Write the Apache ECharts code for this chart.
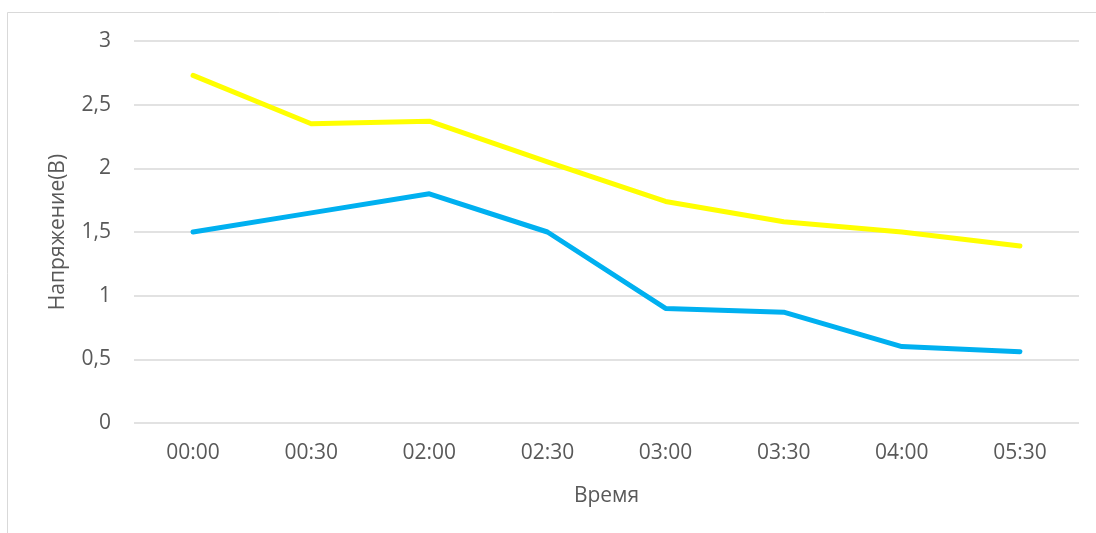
<!DOCTYPE html>
<html>
<head>
<meta charset="utf-8">
<script src="https://cdn.jsdelivr.net/npm/echarts@6/dist/echarts.min.js"></script>
<style>
  html, body { margin: 0; padding: 0; background: #fff; }
  #chart { width: 1096px; height: 533px; }
</style>
</head>
<body>
<div id="chart"></div>
<script>
// Time points on the horizontal axis
const times = ['00:00', '00:30', '02:00', '02:30', '03:00', '03:30', '04:00', '05:30'];
// Voltage readings, volts
const voltageYellow = [2.73, 2.35, 2.37, 2.05, 1.74, 1.58, 1.50, 1.39];
const voltageBlue = [1.50, 1.65, 1.80, 1.50, 0.90, 0.87, 0.60, 0.56];
// Value axis ticks
const yTicks = [0, 0.5, 1, 1.5, 2, 2.5, 3];

const fontFamily = '"Open Sans", "DejaVu Sans", sans-serif';
const textColor = '#595959';
const fontSize = 21;

const chart = echarts.init(document.getElementById('chart'), null, { renderer: 'canvas' });

const lineSeries = (data, color) => ({
  type: 'line',
  data: data,
  symbol: 'none',
  smooth: false,
  lineStyle: { color: color, width: 5, cap: 'round', join: 'round' },
  itemStyle: { color: color },
  animation: false
});

chart.setOption({
  backgroundColor: '#ffffff',
  animation: false,
  graphic: [{
    type: 'rect',
    shape: { x: 7.5, y: 12.5, width: 1200, height: 600 },
    style: { fill: 'none', stroke: '#d9d9d9', lineWidth: 1 },
    silent: true,
    z: -1
  }],
  grid: { left: 134, right: 17, top: 41, bottom: 110, containLabel: false },
  xAxis: {
    type: 'category',
    data: times,
    boundaryGap: true,
    axisLine: { show: false },
    axisTick: { show: false },
    axisLabel: { color: textColor, fontFamily: fontFamily, fontSize: fontSize, margin: 20 },
    name: 'Время',
    nameLocation: 'middle',
    nameGap: 63,
    nameTextStyle: { color: textColor, fontFamily: fontFamily, fontSize: fontSize }
  },
  yAxis: {
    type: 'value',
    min: yTicks[0],
    max: yTicks[yTicks.length - 1],
    interval: 0.5,
    axisLine: { show: false },
    axisTick: { show: false },
    splitLine: { lineStyle: { color: '#d9d9d9', width: 1.5 } },
    axisLabel: {
      color: textColor, fontFamily: fontFamily, fontSize: fontSize, margin: 23,
      formatter: v => String(v).replace('.', ',')
    },
    name: 'Напряжение(В)',
    nameLocation: 'middle',
    nameGap: 65,
    nameRotate: 90,
    nameTextStyle: { color: textColor, fontFamily: fontFamily, fontSize: fontSize }
  },
  series: [
    lineSeries(voltageYellow, '#ffff00'),
    lineSeries(voltageBlue, '#00b0f0')
  ]
});
</script>
</body>
</html>
